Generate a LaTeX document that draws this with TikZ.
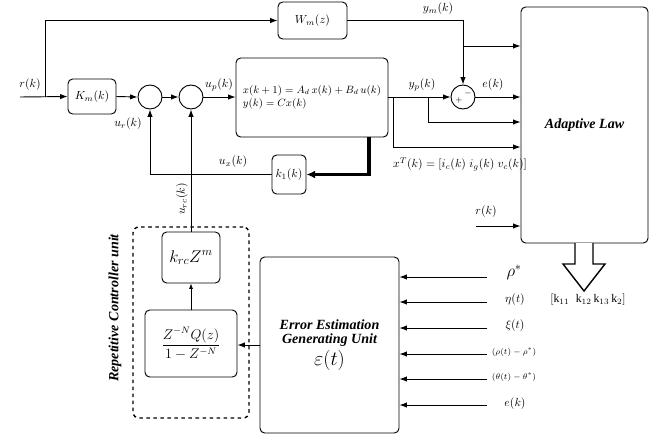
\documentclass[tikz,border=0pt]{standalone}
\usepackage{amsmath}
\usepackage{amssymb}
\usepackage{fontspec}
\setmainfont{Liberation Serif}
\usetikzlibrary{positioning,arrows.meta}

\begin{document}
\begin{tikzpicture}[
    x=0.03cm, y=-0.03cm,
    box/.style={draw, thick, rounded corners=4pt, align=center},
    sumc/.style={draw, thick, circle, minimum size=0.72cm, inner sep=0pt},
    arr/.style={-{Latex[length=2.2mm, width=1.6mm]}, thick},
    thinarr/.style={-{Latex[length=1.6mm, width=1.2mm]}, semithick},
    lbl/.style={font=\normalsize, inner sep=1pt},
    bigtxt/.style={font=\large\bfseries\itshape, align=center}
]
\useasboundingbox (0,0) rectangle (656,437);

% forward path
\node[box, minimum width=2.07cm, minimum height=1.11cm] (Wm) at (312.5,20.5) {$W_m(z)$};
\node[box, minimum width=1.44cm, minimum height=1.05cm] (Km) at (92,96.5) {$K_m(k)$};
\node[sumc] (S1) at (150,97) {};
\node[sumc] (S2) at (191,97) {};
\node[box, minimum width=4.56cm, minimum height=2.37cm, align=left, font=\small, inner sep=2pt] (plant) at (312,97.5)
{$x(k+1)=A_d\,x(k)+B_d\,u(k)$\\$y(k)=Cx(k)$};
\node[sumc] (S3) at (463,97) {};
\node[font=\scriptsize, inner sep=0pt] at ([shift={(-4,3)}]S3.center) {$+$};
\node[font=\scriptsize, inner sep=0pt] at ([shift={(5,-4)}]S3.center) {$-$};
\node[box, minimum width=3.81cm, minimum height=7.08cm] (AL) at (584.5,125) {\bfseries\itshape\large Adaptive Law};
\node[box, minimum width=1.02cm, minimum height=1.17cm, inner sep=1pt] (k1) at (289,174.5) {$k_1(k)$};

% repetitive controller
\node[draw, very thick, dashed, rounded corners=5pt, minimum width=3.48cm, minimum height=5.73cm] (RC) at (191,322.5) {};
\node[box, minimum width=1.74cm, minimum height=1.53cm, font=\Large] (krc) at (191,257.5) {$k_{rc}Z^m$};
\node[box, minimum width=2.76cm, minimum height=2.01cm, font=\large] (frac) at (191,343.5) {$\dfrac{Z^{-N}Q(z)}{1-Z^{-N}}$};
\node[bigtxt, rotate=90] at (115,308) {Repetitive Controller unit};
\node[box, minimum width=4.17cm, minimum height=5.28cm] (EEG) at (329.5,345)
{\bfseries\itshape\large Error Estimation\\\bfseries\itshape\large Generating Unit\\[2pt]{\LARGE$\varepsilon(t)$}};

\coordinate (rin) at (20,97);
\coordinate (rsplit) at (45,97);
\coordinate (ypb) at (428,97);
\coordinate (xb) at (393,97);
\coordinate (ymb) at (463,46);
\coordinate (rAL) at (476,226);

\draw[arr] (rin) -- (Km.west);
\node[lbl] at (30,85) {$r(k)$};
\draw[arr] (rsplit) |- (Wm.west);
\draw[arr] (Km.east) -- (S1.west);
\node[lbl] at (128,124) {$u_r(k)$};
\draw[arr] (S1.east) -- (S2.west);
\draw[arr] (S2.east) -- (plant.west |- S2.east);
\node[lbl] at (219,85) {$u_p(k)$};
\draw[arr] (plant.east |- S3.west) -- (S3.west);
\node[lbl] at (422,85) {$y_p(k)$};
\draw[arr] (Wm.east) -| (S3.north);
\node[lbl] at (438,9) {$y_m(k)$};
\draw[arr] (ymb) -- (ymb -| AL.west);
\draw[arr] (S3.east) -- (S3.east -| AL.west);
\node[lbl] at (493,85) {$e(k)$};
\draw[arr] (ypb) |- (AL.west |- 0,122);
\draw[arr] (xb) |- (AL.west |- 0,147);
\node[lbl] at (460,164) {$x^T(k)=[i_c(k)\;i_g(k)\;v_c(k)]$};
\draw[arr] (rAL) -- (rAL -| AL.west);
\node[lbl] at (486,212) {$r(k)$};

% state feedback
\draw[-{Latex[length=2.6mm, width=2.4mm]}, line width=3.2pt] (369,137) |- (k1.east);
\draw[arr] (k1.west) -| (S1.south);
\node[lbl] at (233,162) {$u_x(k)$};
\draw[arr] (krc.north) -- (S2.south);
\node[lbl, rotate=90] at (182,199) {$u_{rc}(k)$};
\draw[thinarr] (frac.north) -- (krc.south);
\draw[arr] (EEG.west) -- (EEG.west -| frac.east);

% gains out of the adaptive law
\draw[very thick, fill=white] (575,243) -- (575,264) -- (563,264) -- (584,291) -- (605,264) -- (593,264) -- (593,243);
\node[lbl] at (588,300) {$[\mathrm{k}_{11}\;\;\mathrm{k}_{12}\,\mathrm{k}_{13}\,\mathrm{k}_2]$};

% inputs of the error estimation unit
\coordinate (i1) at (487,277);
\coordinate (i2) at (487,302);
\coordinate (i3) at (487,328);
\coordinate (i4) at (487,354);
\coordinate (i5) at (487,379);
\coordinate (i6) at (487,405);
\draw[arr] (i1) -- (i1 -| EEG.east);
\draw[arr] (i2) -- (i2 -| EEG.east);
\draw[arr] (i3) -- (i3 -| EEG.east);
\draw[arr] (i4) -- (i4 -| EEG.east);
\draw[arr] (i5) -- (i5 -| EEG.east);
\draw[arr] (i6) -- (i6 -| EEG.east);
\node[lbl, font=\Large] at (514,272) {$\rho^*$};
\node[lbl] at (515,300) {$\eta(t)$};
\node[lbl] at (515,326) {$\xi(t)$};
\node[lbl, font=\scriptsize] at (514,352) {$(\rho(t)-\rho^*)$};
\node[lbl, font=\scriptsize] at (514,377) {$(\theta(t)-\theta^*)$};
\node[lbl] at (515,404) {$e(k)$};

\end{tikzpicture}
\end{document}
